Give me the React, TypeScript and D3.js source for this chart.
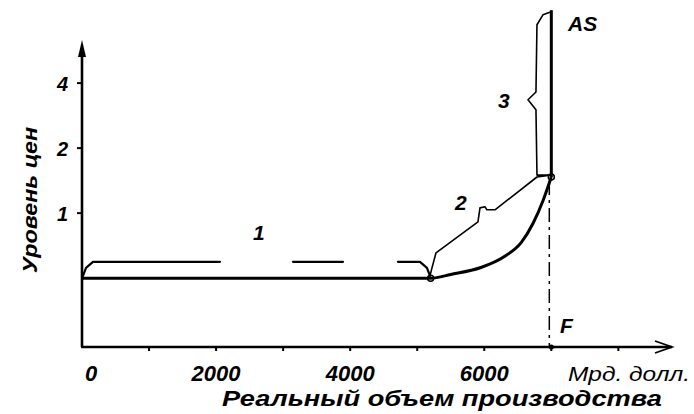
import React from "react";
import * as d3 from "d3";

// ---- data ----
const xTickValues = [1000, 2000, 3000, 4000, 5000, 6000, 7000, 8000];
const xTickLabels = [0, 2000, 4000, 6000];
const yTickValues = [1, 2, 4];
const xUnitLabel = "Мрд. долл.";
const xAxisTitle = "Реальный объем производства";
const yAxisTitle = "Уровень цен";

// aggregate supply curve: horizontal part + rising part
const asOutput = [0, 5200, 5500, 5950, 6300, 6550, 6730, 6880, 7000];
const asPrice = [0.5, 0.5, 0.52, 0.56, 0.63, 0.73, 0.9, 1.15, 1.47];
// vertical (classical) part
const asVertOutput = [7000, 7000];
const asVertPrice = [1.47, 8.7];
const fullEmployment = 7000;

// brace annotations (data units)
const brace1aX = [15, 60, 164, 2058];
const brace1aP = [0.512, 0.558, 0.595, 0.595];
const brace1bX = [3147, 3893];
const brace1bP = [0.595, 0.595];
const brace1cX = [4713, 5041, 5145, 5190];
const brace1cP = [0.595, 0.595, 0.558, 0.512];
const brace2X = [5190, 5220, 5280, 5906, 5936, 6010, 6040, 6160, 6786, 6980];
const brace2P = [0.512, 0.558, 0.655, 0.911, 1.058, 1.07, 1.036, 1.036, 1.47, 1.5];
const brace3X = [7000, 6786, 6771, 6652, 6771, 6786, 6875, 7000];
const brace3P = [1.5, 1.5, 3.01, 3.35, 3.64, 7.45, 8.28, 8.55];

const segmentLabels = ["1", "2", "3"];

export default function App() {
  const W = 694;
  const H = 414;
  const x = d3.scaleLinear().domain([0, 8800]).range([82, 672]);
  const y = d3.scaleLog().base(2).domain([0.24, 6.2]).range([347, 42]);

  const lineGen = (xs: number[], ps: number[], curve: any = d3.curveLinear) =>
    d3
      .line<number>()
      .x((_, i) => x(xs[i]))
      .y((_, i) => y(ps[i]))
      .curve(curve)(xs.map((_, i) => i)) as string;

  const font = "'Liberation Sans', Arial, sans-serif";
  const x0 = x(0);
  const yBase = y(0.24);
  const yTop = y(6.2);
  const xEnd = x(8800);

  return (
    <svg
      width={W}
      height={H}
      style={{ position: "absolute", left: 0, top: 0, background: "#fff" }}
      fontFamily={font}
      fontStyle="italic"
      fontWeight="bold"
    >
      {/* axes */}
      <line x1={x0} y1={yBase} x2={x0} y2={yTop + 6} stroke="#000" strokeWidth={2.6} />
      <path d={`M${x0},${yTop - 2} L${x0 - 4},${yTop + 15} L${x0 + 4},${yTop + 15} Z`} fill="#000" />
      <line x1={x0 - 1} y1={yBase} x2={xEnd} y2={yBase} stroke="#000" strokeWidth={2.6} />
      <path
        d={`M${xEnd - 17},${yBase - 6} L${xEnd},${yBase} L${xEnd - 17},${yBase + 6}`}
        fill="none"
        stroke="#000"
        strokeWidth={1.8}
      />
      {xTickValues.map((v) => (
        <line key={v} x1={x(v)} x2={x(v)} y1={yBase} y2={yBase + 4} stroke="#000" strokeWidth={2} />
      ))}
      <circle cx={x(fullEmployment)} cy={yBase} r={2.5} fill="#000" />
      {yTickValues.map((v) => (
        <line key={v} x1={x0 - 5} x2={x0} y1={y(v)} y2={y(v)} stroke="#000" strokeWidth={2} />
      ))}

      {/* tick labels */}
      {xTickLabels.map((v) => (
        <text key={v} x={x(v) + (v === 0 ? 9 : 0)} y={381} fontSize={22} textAnchor="middle">
          {v}
        </text>
      ))}
      <text x={568} y={381} fontSize={21} fontWeight="normal" textLength={122} lengthAdjust="spacingAndGlyphs">
        {xUnitLabel}
      </text>
      {yTickValues.map((v) => (
        <text key={v} x={68} y={y(v) + 8} fontSize={20} textAnchor="end">
          {v}
        </text>
      ))}

      {/* axis titles */}
      <text x={222} y={406} fontSize={22} textLength={440} lengthAdjust="spacingAndGlyphs">
        {xAxisTitle}
      </text>
      <text
        transform={`translate(37,200) rotate(-90)`}
        fontSize={20}
        textAnchor="middle"
        textLength={146}
        lengthAdjust="spacingAndGlyphs"
      >
        {yAxisTitle}
      </text>

      {/* full employment dash-dot line */}
      <line
        x1={x(fullEmployment) - 2}
        x2={x(fullEmployment) - 2}
        y1={y(1.47) + 4}
        y2={yBase}
        stroke="#000"
        strokeWidth={1.5}
        strokeDasharray="14 5 3 5"
      />

      {/* AS curve */}
      <path d={lineGen(asOutput, asPrice, d3.curveMonotoneX)} fill="none" stroke="#000" strokeWidth={3} />
      <path d={lineGen(asVertOutput, asVertPrice)} fill="none" stroke="#000" strokeWidth={3} />
      <circle cx={x(5200)} cy={y(0.5)} r={3} fill="none" stroke="#000" strokeWidth={1.5} />
      <circle cx={x(7000)} cy={y(1.47)} r={3} fill="none" stroke="#000" strokeWidth={1.5} />

      {/* braces */}
      {[
        [brace1aX, brace1aP],
        [brace1bX, brace1bP],
        [brace1cX, brace1cP],
        [brace2X, brace2P],
        [brace3X, brace3P],
      ].map(([xs, ps], i) => (
        <path
          key={i}
          d={lineGen(xs, ps)}
          fill="none"
          stroke="#000"
          strokeWidth={i < 3 ? 2.2 : 1.6}
          strokeLinejoin="round"
          strokeLinecap="round"
        />
      ))}

      {/* segment labels */}
      <text x={253} y={240} fontSize={21}>{segmentLabels[0]}</text>
      <text x={455} y={210} fontSize={21}>{segmentLabels[1]}</text>
      <text x={498} y={108} fontSize={21}>{segmentLabels[2]}</text>
      <text x={568} y={31} fontSize={21}>AS</text>
      <text x={560} y={333} fontSize={21}>F</text>
    </svg>
  );
}
